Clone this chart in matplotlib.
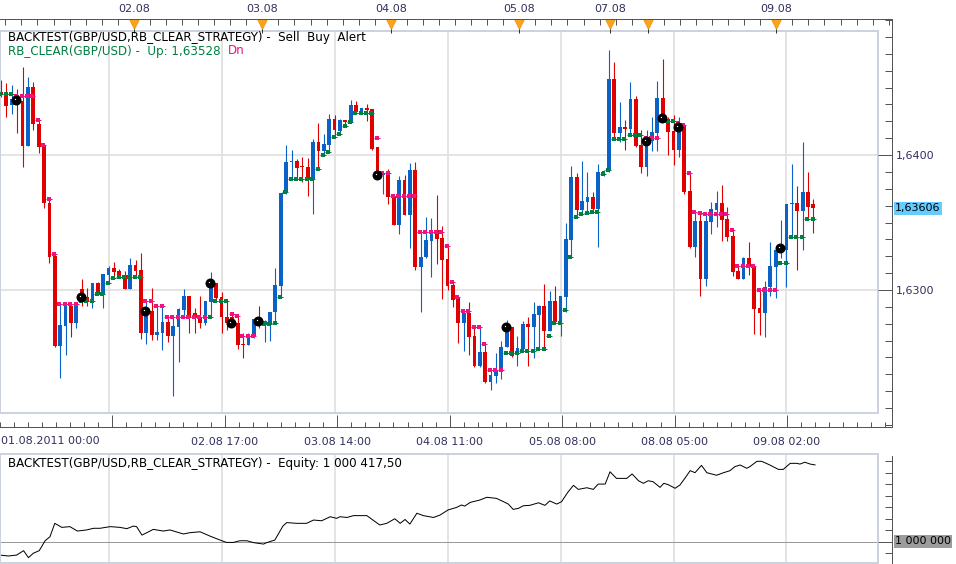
import numpy as np
import matplotlib
matplotlib.use("Agg")
import matplotlib.pyplot as plt
from matplotlib.transforms import blended_transform_factory

# Data (hourly GBP/USD candles, index 0 = 01.08.2011 00:00)
opens = [1.64469, 1.64457, 1.64370, 1.64444, 1.64400, 1.64069, 1.64501, 1.64230, 1.64067, 1.63647,
         1.63252, 1.62588, 1.62736, 1.62884, 1.62753, 1.63007, 1.62946, 1.62919, 1.63049, 1.62968,
         1.63111, 1.63160, 1.63141, 1.63111, 1.63007, 1.63185, 1.63148, 1.62684, 1.62844, 1.62667,
         1.62684, 1.62765, 1.62659, 1.62728, 1.62852, 1.62956, 1.62827, 1.62802, 1.62753, 1.62914,
         1.63049, 1.62946, 1.62802, 1.62802, 1.62758, 1.62600, 1.62593, 1.62662, 1.62778, 1.62741,
         1.62746, 1.62840, 1.63030, 1.63716, 1.63946, 1.63956, 1.63919, 1.63909, 1.63822, 1.64094,
         1.64032, 1.64074, 1.64264, 1.64180, 1.64259, 1.64247, 1.64370, 1.64309, 1.64346, 1.64341,
         1.64057, 1.63852, 1.63852, 1.63696, 1.63481, 1.63815, 1.63556, 1.63889, 1.63173, 1.63242,
         1.63363, 1.63444, 1.63383, 1.63230, 1.63037, 1.62946, 1.62758, 1.62832, 1.62659, 1.62437,
         1.62543, 1.62321, 1.62365, 1.62402, 1.62575, 1.62728, 1.62531, 1.62560, 1.62746, 1.62728,
         1.62815, 1.62881, 1.62699, 1.62921, 1.62760, 1.62951, 1.63370, 1.63840, 1.63593, 1.63654,
         1.63691, 1.63600, 1.63859, 1.63884, 1.64563, 1.64165, 1.64205, 1.64193, 1.64415, 1.64074,
         1.63914, 1.64106, 1.64165, 1.64420, 1.64267, 1.64178, 1.64037, 1.64217, 1.63733, 1.63321,
         1.63511, 1.63081, 1.63506, 1.63593, 1.63647, 1.63526, 1.63400, 1.63143, 1.63081, 1.63235,
         1.63178, 1.62864, 1.62832, 1.63025, 1.63173, 1.63296, 1.63296, 1.63635, 1.63647, 1.63585,
         1.63723, 1.63635]
highs = [1.64556, 1.64536, 1.64519, 1.64486, 1.64654, 1.64580, 1.64543, 1.64264, 1.64081, 1.63672,
         1.63272, 1.62889, 1.62893, 1.62893, 1.62893, 1.63081, 1.63012, 1.63054, 1.63062, 1.63119,
         1.63178, 1.63210, 1.63153, 1.63141, 1.63235, 1.63222, 1.63277, 1.62926, 1.63012, 1.62881,
         1.62881, 1.62802, 1.62802, 1.62864, 1.63007, 1.62956, 1.62864, 1.62956, 1.62921, 1.63133,
         1.63049, 1.62988, 1.62919, 1.62832, 1.62815, 1.62679, 1.62684, 1.62783, 1.62884, 1.62778,
         1.62840, 1.63160, 1.63721, 1.64074, 1.64037, 1.63970, 1.63988, 1.63975, 1.64119, 1.64240,
         1.64156, 1.64304, 1.64296, 1.64264, 1.64259, 1.64407, 1.64402, 1.64351, 1.64378, 1.64341,
         1.64057, 1.63864, 1.63894, 1.63696, 1.63844, 1.63852, 1.63938, 1.63951, 1.63432, 1.63543,
         1.63531, 1.63704, 1.63474, 1.63333, 1.63062, 1.62956, 1.62840, 1.62909, 1.62733, 1.62728,
         1.62598, 1.62407, 1.62531, 1.62622, 1.62778, 1.62728, 1.62659, 1.62770, 1.62798, 1.62914,
         1.62889, 1.63044, 1.62993, 1.63030, 1.62956, 1.63494, 1.63919, 1.63864, 1.63956, 1.63877,
         1.63728, 1.63933, 1.63889, 1.64778, 1.64691, 1.64395, 1.64259, 1.64538, 1.64437, 1.64185,
         1.64185, 1.64279, 1.64548, 1.64711, 1.64284, 1.64296, 1.64284, 1.64227, 1.63864, 1.63580,
         1.63573, 1.63568, 1.63654, 1.63733, 1.63778, 1.63617, 1.63444, 1.63178, 1.63247, 1.63353,
         1.63178, 1.63000, 1.63069, 1.63353, 1.63296, 1.63519, 1.63637, 1.63933, 1.63773, 1.64094,
         1.63872, 1.63674]
lows = [1.64432, 1.64279, 1.64301, 1.64160, 1.63914, 1.64065, 1.64185, 1.64017, 1.63610, 1.63198,
        1.62580, 1.62351, 1.62519, 1.62654, 1.62716, 1.62884, 1.62884, 1.62869, 1.62965, 1.62869,
        1.63049, 1.63086, 1.63086, 1.63005, 1.63005, 1.63094, 1.62637, 1.62600, 1.62630, 1.62630,
        1.62556, 1.62617, 1.62217, 1.62469, 1.62802, 1.62679, 1.62684, 1.62716, 1.62741, 1.62802,
        1.62926, 1.62684, 1.62704, 1.62728, 1.62560, 1.62494, 1.62590, 1.62642, 1.62716, 1.62617,
        1.62622, 1.62753, 1.62963, 1.63714, 1.63822, 1.63822, 1.63802, 1.63699, 1.63563, 1.63896,
        1.63995, 1.64020, 1.64141, 1.64156, 1.64215, 1.64242, 1.64309, 1.64309, 1.64254, 1.64037,
        1.63852, 1.63709, 1.63637, 1.63478, 1.63415, 1.63553, 1.63314, 1.63148, 1.62840, 1.63240,
        1.63099, 1.63193, 1.62933, 1.63000, 1.62872, 1.62610, 1.62551, 1.62519, 1.62432, 1.62432,
        1.62309, 1.62259, 1.62309, 1.62341, 1.62575, 1.62506, 1.62440, 1.62548, 1.62440, 1.62494,
        1.62556, 1.62560, 1.62699, 1.62760, 1.62662, 1.62835, 1.63240, 1.63543, 1.63563, 1.63563,
        1.63593, 1.63321, 1.63847, 1.63877, 1.64123, 1.64099, 1.64037, 1.64141, 1.64062, 1.63869,
        1.63847, 1.64032, 1.64032, 1.64242, 1.64000, 1.63926, 1.63988, 1.63711, 1.63309, 1.63247,
        1.62956, 1.63032, 1.63415, 1.63469, 1.63363, 1.63363, 1.63104, 1.63079, 1.63079, 1.63111,
        1.62674, 1.62667, 1.62654, 1.62958, 1.62943, 1.63240, 1.63025, 1.63390, 1.63148, 1.63296,
        1.63531, 1.63425]
closes = [1.64449, 1.64365, 1.64415, 1.64395, 1.64069, 1.64501, 1.64227, 1.64062, 1.63642, 1.63247,
          1.62588, 1.62741, 1.62889, 1.62753, 1.62889, 1.62909, 1.62916, 1.63054, 1.62968, 1.63119,
          1.63160, 1.63131, 1.63094, 1.63007, 1.63185, 1.63141, 1.62684, 1.62832, 1.62667, 1.62686,
          1.62765, 1.62659, 1.62736, 1.62857, 1.62956, 1.62802, 1.62802, 1.62753, 1.62921, 1.63044,
          1.62938, 1.62802, 1.62753, 1.62753, 1.62593, 1.62593, 1.62667, 1.62783, 1.62753, 1.62770,
          1.62840, 1.63037, 1.63721, 1.63951, 1.63956, 1.63906, 1.63909, 1.63822, 1.64094, 1.64032,
          1.64081, 1.64264, 1.64185, 1.64259, 1.64244, 1.64370, 1.64316, 1.64351, 1.64333, 1.64044,
          1.63864, 1.63864, 1.63686, 1.63481, 1.63815, 1.63556, 1.63889, 1.63173, 1.63247, 1.63370,
          1.63427, 1.63378, 1.63222, 1.63032, 1.62926, 1.62758, 1.62832, 1.62654, 1.62437, 1.62543,
          1.62316, 1.62370, 1.62407, 1.62580, 1.62721, 1.62514, 1.62568, 1.62746, 1.62728, 1.62822,
          1.62881, 1.62699, 1.62921, 1.62760, 1.62956, 1.63378, 1.63840, 1.63593, 1.63662, 1.63691,
          1.63600, 1.63877, 1.63884, 1.64563, 1.64165, 1.64205, 1.64193, 1.64415, 1.64067, 1.63914,
          1.64111, 1.64168, 1.64420, 1.64254, 1.64173, 1.64037, 1.64217, 1.63723, 1.63316, 1.63511,
          1.63081, 1.63511, 1.63600, 1.63647, 1.63519, 1.63395, 1.63136, 1.63081, 1.63235, 1.63178,
          1.62859, 1.62832, 1.63025, 1.63178, 1.63296, 1.63326, 1.63637, 1.63647, 1.63585, 1.63723,
          1.63617, 1.63606]

# RB_CLEAR trailing levels, one per candle, with direction u=Up d=Dn
trail_level = [1.64454, 1.64454, 1.64454, 1.64440, 1.64440, 1.64440, 1.64440, 1.64259, 1.64077, 1.63672,
               1.63264, 1.62894, 1.62894, 1.62894, 1.62894, 1.62919, 1.62919, 1.62919, 1.62968, 1.62968,
               1.63049, 1.63086, 1.63094, 1.63094, 1.63094, 1.63094, 1.63094, 1.62919, 1.62919, 1.62881,
               1.62881, 1.62802, 1.62802, 1.62802, 1.62802, 1.62802, 1.62802, 1.62802, 1.62802, 1.62802,
               1.62919, 1.62919, 1.62919, 1.62820, 1.62810, 1.62662, 1.62662, 1.62662, 1.62746, 1.62746,
               1.62746, 1.62753, 1.62946, 1.63723, 1.63822, 1.63822, 1.63822, 1.63822, 1.63822, 1.63896,
               1.64000, 1.64020, 1.64131, 1.64156, 1.64215, 1.64242, 1.64309, 1.64309, 1.64309, 1.64309,
               1.64123, 1.63864, 1.63864, 1.63696, 1.63696, 1.63696, 1.63696, 1.63696, 1.63427, 1.63427,
               1.63427, 1.63427, 1.63427, 1.63326, 1.63057, 1.62946, 1.62842, 1.62842, 1.62728, 1.62728,
               1.62598, 1.62405, 1.62405, 1.62405, 1.62531, 1.62531, 1.62531, 1.62551, 1.62551, 1.62551,
               1.62565, 1.62565, 1.62657, 1.62753, 1.62753, 1.62852, 1.63242, 1.63541, 1.63563, 1.63568,
               1.63580, 1.63580, 1.63859, 1.63889, 1.64119, 1.64119, 1.64119, 1.64146, 1.64146, 1.64146,
               1.64123, 1.64123, 1.64123, 1.64254, 1.64254, 1.64254, 1.64235, 1.64222, 1.63864, 1.63575,
               1.63570, 1.63565, 1.63563, 1.63563, 1.63563, 1.63563, 1.63442, 1.63175, 1.63175, 1.63175,
               1.63175, 1.62998, 1.62998, 1.62998, 1.62998, 1.63198, 1.63198, 1.63390, 1.63390, 1.63390,
               1.63528, 1.63528]
trail_dir = ("uuu" + "d" * 12 + "u" * 12 + "d" * 12 + "u" * 4 + "d" * 5 + "u" * 22
             + "d" * 24 + "u" * 26 + "ddd" + "uuu" + "d" * 19 + "u" * 7)

# strategy alerts (candle index, price)
alert_idx = [3, 15, 27, 39, 43, 48, 70, 94, 120, 123, 126, 145]
alert_price = [1.64407, 1.62948, 1.62844, 1.63052, 1.62756, 1.62770,
               1.63852, 1.62724, 1.64104, 1.64272, 1.64205, 1.63309]

# equity curve vertices (candle position, P/L over 1 000 000)
eq_idx = [-0.2, 1.4, 2.9, 4.2, 5.1, 6.0, 7.1, 8.2, 9.1, 10.0, 11.3, 12.8, 14.2, 15.9, 17.2, 18.4,
          20.3, 22.1, 23.4, 24.6, 25.2, 26.2, 27.1, 28.3, 30.2, 31.4, 33.9, 35.1, 37.0, 38.8, 40.7,
          41.9, 43.2, 44.4, 45.7, 46.9, 48.8, 49.4, 50.9, 52.4, 53.1, 55.0, 56.8, 58.1, 59.6, 61.2,
          62.4, 63.0, 64.3, 65.5, 68.0, 70.4, 71.7, 73.2, 74.2, 75.1, 76.0, 77.3, 78.5, 80.4, 81.6,
          83.1, 84.7, 85.6, 86.2, 87.2, 89.0, 90.3, 92.1, 93.4, 94.3, 95.2, 96.2, 97.1, 98.3, 99.9,
          101.1, 102.0, 103.3, 104.2, 105.3, 106.4, 107.3, 108.9, 110.1, 111.0, 112.3, 113.2, 114.4,
          116.3, 117.3, 118.5, 119.4, 120.3, 121.2, 122.5, 123.2, 124.0, 125.3, 126.2, 127.1, 128.1,
          129.0, 130.2, 131.2, 133.0, 134.3, 135.5, 136.4, 137.4, 138.6, 139.2, 140.5, 141.4, 142.9,
          144.5, 145.4, 146.7, 147.9, 148.5, 149.4, 150.4, 151.3]
eq_pnl = [-74, -79, -74, -50, -88, -64, -50, 4, 26, 99, 77, 81, 57, 63, 72, 72,
          81, 77, 70, 84, 81, 35, 48, 66, 57, 63, 41, 48, 53, 30, 8,
          -5, -5, 4, 4, -6, -14, -6, 8, 84, 103, 99, 99, 117, 113, 135,
          126, 135, 131, 141, 141, 90, 99, 124, 99, 120, 95, 154, 141, 131, 144,
          172, 186, 199, 193, 213, 226, 241, 235, 217, 204, 175, 181, 195, 197, 211,
          197, 221, 204, 217, 266, 306, 284, 293, 284, 313, 313, 380, 344,
          344, 368, 331, 317, 331, 326, 295, 317, 310, 290, 308, 344, 386,
          375, 415, 375, 361, 375, 386, 408, 417, 399, 408, 437, 437, 417,
          393, 393, 426, 426, 422, 432, 422, 417.5]
equity_base = 1000000

# axis labels
grid_idx = [20, 41, 62, 83, 104, 125, 146]
grid_labels = ["", "02.08 17:00", "03.08 14:00", "04.08 11:00", "05.08 08:00", "08.08 05:00", "09.08 02:00"]
first_label = "01.08.2011 00:00"
day_idx = [24, 48, 72, 96, 113, 120, 144]
day_labels = ["02.08", "03.08", "04.08", "05.08", "07.08", "", "09.08"]
price_ticks = [1.6300, 1.6400]
price_labels = ["1,6300", "1,6400"]
last_price = "1,63606"

# ---- layout (pixels) ----
W, H = 956, 564
PX = 0.72  # points per pixel at dpi 100
BLUE, RED = "#0a62c6", "#e00000"
GREEN, PINK = "#008040", "#f0137f"
NAVY = "#30305e"
AXC = "#555555"
FRAME = "#cdd3de"
GRID = "#dedede"

plt.rcParams['font.family'] = ['DejaVu Sans']
FS = 8
FSL = 8.6


def rect(x0, y0, x1, y1):
    return [x0 / W, 1 - y1 / H, (x1 - x0) / W, (y1 - y0) / H]


def xl(x0, x1):  # candle 0 at x=1px, 5.38 px per candle
    return ((x0 - 1) / 5.38, (x1 - 1) / 5.38)


def yl(ytop, ybot):  # 1.6300 at y=290px, 13500 px per unit
    return (1.63 + (290 - ybot) / 13500, 1.63 + (290 - ytop) / 13500)


def el(ytop, ybot):  # 1 000 000 at y=541.5, 5.45 per px
    return (equity_base + (541.5 - ybot) * 5.45, equity_base + (541.5 - ytop) * 5.45)


fig = plt.figure(figsize=(W / 100, H / 100), dpi=100)
fig.patch.set_facecolor("white")

# main price panel
ax = fig.add_axes(rect(0, 31, 878, 413))
ax.set_xlim(*xl(0, 878))
ax.set_ylim(*yl(31, 413))
for s in ax.spines.values():
    s.set_color(FRAME)
    s.set_linewidth(2 * PX)
ax.set_xticks([])
ax.set_yticks([])
for g in grid_idx:
    ax.axvline(g, color=GRID, lw=1.6 * PX, zorder=0)
for p in price_ticks:
    ax.axhline(p, color=GRID, lw=1.6 * PX, zorder=0)

o = np.array(opens)
h = np.array(highs)
l = np.array(lows)
c = np.array(closes)
x = np.arange(len(o))
cols = np.where(c >= o, BLUE, RED)
ax.vlines(x, l, h, colors=cols, lw=1.1 * PX, zorder=2)
body = np.maximum(np.abs(c - o), 0.00008)
ax.bar(x, body, bottom=np.minimum(o, c), width=0.7, color=cols, linewidth=0, zorder=3)

tl = np.array(trail_level)
up = np.array([d == "u" for d in trail_dir])
for mask, col in ((up, GREEN), (~up, PINK)):
    ax.plot(x[mask] - 0.15, tl[mask], ls="none", marker="_", ms=5.5 * PX, mew=1 * PX, color=col, zorder=4)
    ax.plot(x[mask] - 0.15, tl[mask], ls="none", marker="s", ms=3.2 * PX, mew=0, color=col, zorder=4)

ax.plot(np.array(alert_idx) - 0.2, alert_price, ls="none", marker="o", ms=10 * PX,
        color="black", mew=0, zorder=5)
ax.plot(np.array(alert_idx) - 0.35, np.array(alert_price) + 0.00008, ls="none", marker="s",
        ms=1.2 * PX, color="white", mew=0, zorder=6)

# outer scale frame for the price panel
axs = fig.add_axes(rect(0, 19, 892, 427))
axs.patch.set_visible(False)
axs.set_xlim(*xl(0, 892))
axs.set_ylim(*yl(19, 427))
axs.spines["left"].set_visible(False)
for k in ("top", "right", "bottom"):
    axs.spines[k].set_color(AXC)
    axs.spines[k].set_linewidth(1 * PX)
axs.yaxis.tick_right()
axs.set_yticks(price_ticks)
axs.set_yticklabels(price_labels)
axs.set_yticks(np.arange(1.62, 1.6501, 0.00125), minor=True)
axs.set_xticks(grid_idx)
axs.set_xticklabels(grid_labels)
axs.set_xticks(np.arange(-1, 166, 21 / 8), minor=True)
axs.tick_params(axis="y", which="major", direction="in", length=14 * PX, width=1 * PX,
                color=AXC, labelcolor=NAVY, labelsize=FS, pad=3, left=False, right=True)
axs.tick_params(axis="y", which="minor", direction="in", length=7 * PX, width=1 * PX,
                color=AXC, left=False, right=True)
axs.tick_params(axis="x", which="major", direction="in", length=12 * PX, width=1 * PX,
                color=AXC, labelcolor=NAVY, labelsize=FS, pad=7, top=False)
axs.tick_params(axis="x", which="minor", direction="in", length=5 * PX, width=1 * PX,
                color=AXC, top=False)
fig.text(1 / W, 1 - 441 / H, first_label, color=NAVY, fontsize=FS, ha="left", va="center")

bt = blended_transform_factory(axs.transData, fig.transFigure)
top_ticks = np.arange(0, 166, 3)
axs.vlines(top_ticks, 1 - 25 / H, 1 - 19 / H, colors=AXC, lw=1 * PX, transform=bt, clip_on=False)
axs.vlines(day_idx, 1 - 33 / H, 1 - 19 / H, colors="#333333", lw=1 * PX, transform=bt, clip_on=False)
axs.plot(day_idx, [1 - 23.5 / H] * len(day_idx), ls="none", marker="v", ms=10 * PX,
         color="#f8a31b", mec="#e89414", mew=0.5, transform=bt, clip_on=False)
for d, lab in zip(day_idx, day_labels):
    axs.text(d, 1 - 9 / H, lab, color=NAVY, fontsize=FS, ha="center", va="center",
             transform=bt, clip_on=False)

# current price flag
yb = blended_transform_factory(axs.transAxes, axs.transData)
axs.text(1 + 3 / 892, 1.63606, last_price, transform=yb, fontsize=FS, color="black",
         ha="left", va="center", bbox=dict(boxstyle="square,pad=0.12", fc="#66ccff", ec="none"))

# legend texts
fig.text(8 / W, 1 - 38 / H, "BACKTEST(GBP/USD,RB_CLEAR_STRATEGY) -  Sell  Buy  Alert",
         color="black", fontsize=FSL, ha="left", va="center")
t_up = fig.text(8 / W, 1 - 51 / H, "RB_CLEAR(GBP/USD) -  Up: 1,63528", color=GREEN,
                fontsize=FSL, ha="left", va="center")
fig.canvas.draw()
bb = t_up.get_window_extent()
fig.text((bb.x1 + 7) / W, 1 - 51 / H, "Dn", color=PINK, fontsize=FSL, ha="left", va="center")

# equity panel
axe = fig.add_axes(rect(0, 454, 878, 563))
axe.set_xlim(*xl(0, 878))
axe.set_ylim(*el(454, 563))
for s in axe.spines.values():
    s.set_color(FRAME)
    s.set_linewidth(2 * PX)
axe.set_xticks([])
axe.set_yticks([])
for g in grid_idx:
    axe.axvline(g, color=GRID, lw=1.6 * PX, zorder=0)
axe.axhline(equity_base, color="#999999", lw=1 * PX, zorder=1)
axe.plot(eq_idx, equity_base + np.array(eq_pnl), color="black", lw=1 * PX, zorder=2)
fig.text(8 / W, 1 - 463 / H, "BACKTEST(GBP/USD,RB_CLEAR_STRATEGY) -  Equity: 1 000 417,50",
         color="black", fontsize=FSL, ha="left", va="center")

axes2 = fig.add_axes(rect(0, 456, 892, 564))
axes2.patch.set_visible(False)
axes2.set_xlim(*xl(0, 892))
axes2.set_ylim(*el(456, 564))
for k in ("left", "top", "bottom"):
    axes2.spines[k].set_visible(False)
axes2.spines["right"].set_color(AXC)
axes2.spines["right"].set_linewidth(1 * PX)
axes2.set_xticks([])
axes2.yaxis.tick_right()
axes2.set_yticks([equity_base])
axes2.set_yticklabels([""])
axes2.set_yticks(equity_base + 62.5 * np.arange(-1, 8), minor=True)
axes2.tick_params(axis="y", which="major", direction="in", length=14 * PX, width=1 * PX,
                  color=AXC, left=False, right=True)
axes2.tick_params(axis="y", which="minor", direction="in", length=7 * PX, width=1 * PX,
                  color=AXC, left=False, right=True)
yb2 = blended_transform_factory(axes2.transAxes, axes2.transData)
axes2.text(1 + 3 / 892, equity_base, "1 000 000", transform=yb2, fontsize=FS, color="black",
           ha="left", va="center", bbox=dict(boxstyle="square,pad=0.12", fc="#9c9c9c", ec="none"))

fig.savefig("out.png", dpi=100)
